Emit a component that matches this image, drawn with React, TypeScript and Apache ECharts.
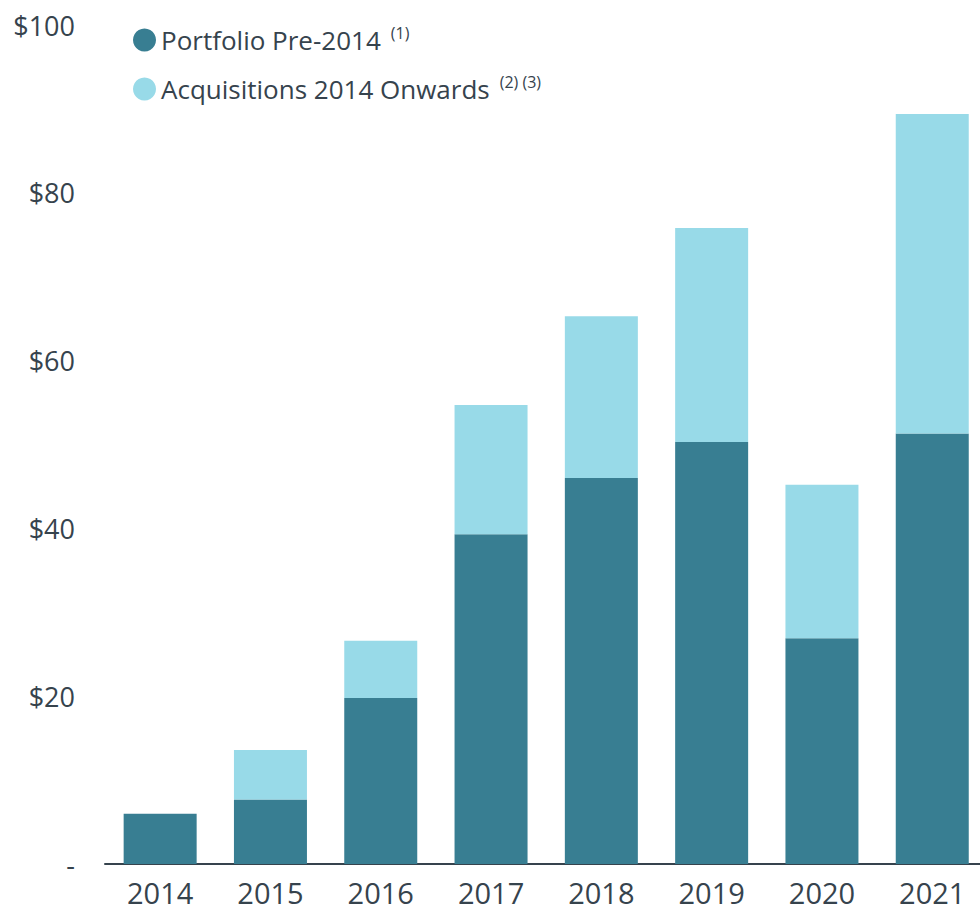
import React, { useEffect, useRef } from "react";
import * as echarts from "echarts";

const years = ["2014", "2015", "2016", "2017", "2018", "2019", "2020", "2021"];
const portfolioPre2014 = [6.0, 7.7, 19.8, 39.3, 46.0, 50.3, 26.9, 51.3];
const acquisitions2014On = [0, 5.9, 6.8, 15.4, 19.3, 25.5, 18.3, 38.1];
const seriesNames = ["Portfolio Pre-2014", "Acquisitions 2014 Onwards"];
const footnotes = ["(1)", "(2) (3)"];
const yTicks = [0, 20, 40, 60, 80, 100];

const DARK = "#387e92";
const LIGHT = "#98dae8";
const TEXT = "#36434d";
const FONT = "'Open Sans', 'Noto Sans', sans-serif";

export default function App() {
  const ref = useRef<HTMLDivElement>(null);
  useEffect(() => {
    if (!ref.current) return;
    const chart = echarts.init(ref.current, undefined, { renderer: "svg" });
    chart.setOption({
      animation: false,
      textStyle: { fontFamily: FONT, color: TEXT },
      legend: {
        orient: "vertical",
        left: 128,
        top: 20,
        icon: "circle",
        itemWidth: 23,
        itemHeight: 23,
        itemGap: 21,
        itemTextGap: 13,
        selectedMode: false,
        data: seriesNames,
        formatter: (name: string) => {
          const i = seriesNames.indexOf(name);
          return `{n|${name}}{s|${footnotes[i]}}`;
        },
        textStyle: {
          fontFamily: FONT,
          color: TEXT,
          rich: {
            n: { fontSize: 26, lineHeight: 30, color: TEXT, fontFamily: FONT },
            s: {
              fontSize: 16,
              lineHeight: 16,
              verticalAlign: "top",
              padding: [0, 0, 0, 10],
              color: TEXT,
              fontFamily: FONT,
            },
          },
        },
      },
      grid: { left: 105, top: 25, width: 882.4, height: 839, containLabel: false },
      xAxis: {
        type: "category",
        data: years,
        axisLine: { show: true, lineStyle: { color: TEXT, width: 2 } },
        axisTick: { show: false },
        axisLabel: { fontSize: 29, lineHeight: 29, color: TEXT, margin: 14, fontFamily: FONT },
      },
      yAxis: {
        type: "value",
        min: yTicks[0],
        max: yTicks[yTicks.length - 1],
        interval: 20,
        splitLine: { show: false },
        axisLine: { show: false },
        axisTick: { show: false },
        axisLabel: {
          fontSize: 27,
          color: TEXT,
          margin: 30,
          fontFamily: FONT,
          formatter: (v: number) => (v === 0 ? "-" : "$" + v),
        },
      },
      series: [
        {
          name: seriesNames[0],
          type: "bar",
          stack: "total",
          barWidth: 73,
          itemStyle: { color: DARK },
          data: portfolioPre2014,
        },
        {
          name: seriesNames[1],
          type: "bar",
          stack: "total",
          barWidth: 73,
          itemStyle: { color: LIGHT },
          data: acquisitions2014On,
        },
      ],
    });
    return () => chart.dispose();
  }, []);
  return (
    <div
      style={{ position: "fixed", left: 0, top: 0, width: 980, height: 913, overflow: "hidden", background: "#fff" }}
    >
      <div ref={ref} style={{ width: 1000, height: 913 }} />
    </div>
  );
}
